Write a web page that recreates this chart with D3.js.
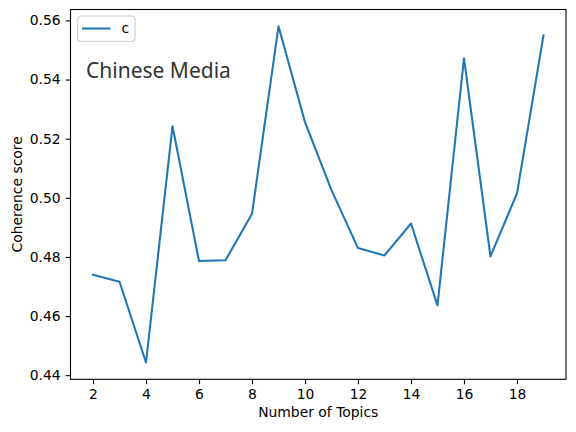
<!DOCTYPE html>
<html>
<head>
<meta charset="utf-8">
<script src="https://cdn.jsdelivr.net/npm/d3@7"></script>
<style>
  body { margin: 0; background: #fff; }
  svg text { font-family: "DejaVu Sans", sans-serif; }
</style>
</head>
<body>
<svg width="576" height="432"></svg>
<script>
// number of topics vs coherence score
const topics = [2, 3, 4, 5, 6, 7, 8, 9, 10, 11, 12, 13, 14, 15, 16, 17, 18, 19]
const scores = [0.4740, 0.4716, 0.4443, 0.5242, 0.4786, 0.4789, 0.4946, 0.5580, 0.5256,
  0.5026, 0.4830, 0.4805, 0.4913, 0.4636, 0.5472, 0.4802, 0.5015, 0.5549]
const xTicks = [2, 4, 6, 8, 10, 12, 14, 16, 18]
const yTicks = [0.44, 0.46, 0.48, 0.50, 0.52, 0.54, 0.56]
const seriesName = "c"
const title = "Chinese Media"

const svg = d3.select("svg")
const plotLeft = 70.5, plotRight = 566, plotTop = 9.5, plotBottom = 379.3
const fontPx = "13.9px"

// matplotlib style 5% margins
const xMin = d3.min(topics), xMax = d3.max(topics)
const xPad = (xMax - xMin) * 0.05
const yMin = d3.min(scores), yMax = d3.max(scores)
const yPad = (yMax - yMin) * 0.05

const x = d3.scaleLinear().domain([xMin - xPad, xMax + xPad]).range([plotLeft, plotRight])
const y = d3.scaleLinear().domain([yMin - yPad, yMax + yPad]).range([plotBottom, plotTop])

const xAxis = svg.append("g")
  .attr("transform", `translate(0,${plotBottom})`)
  .call(d3.axisBottom(x).tickValues(xTicks).tickSize(4.9).tickPadding(4.9).tickFormat(d3.format("d")))
const yAxis = svg.append("g")
  .attr("transform", `translate(${plotLeft},0)`)
  .call(d3.axisLeft(y).tickValues(yTicks).tickSize(4.9).tickPadding(4.9).tickFormat(d3.format(".2f")))

;[xAxis, yAxis].forEach(a => {
  a.select(".domain").remove()
  a.selectAll("line").attr("stroke", "#000").attr("stroke-width", 1.1)
  a.selectAll("text").attr("fill", "#000").style("font-size", fontPx).style("font-family", "DejaVu Sans")
})

// frame
svg.append("rect")
  .attr("x", plotLeft).attr("y", plotTop)
  .attr("width", plotRight - plotLeft).attr("height", plotBottom - plotTop)
  .attr("fill", "none").attr("stroke", "#000").attr("stroke-width", 1.1)

const line = d3.line().x((d, i) => x(topics[i])).y(d => y(d))
svg.append("path")
  .datum(scores)
  .attr("d", line)
  .attr("fill", "none")
  .attr("stroke", "#1f77b4")
  .attr("stroke-width", 2.08)
  .attr("stroke-linejoin", "round")
  .attr("stroke-linecap", "square")

// labels
svg.append("text")
  .attr("x", (plotLeft + plotRight) / 2).attr("y", 417.3)
  .attr("text-anchor", "middle")
  .style("font-size", fontPx)
  .text("Number of Topics")
svg.append("text")
  .attr("transform", `translate(21.5,${(plotTop + plotBottom) / 2}) rotate(-90)`)
  .attr("text-anchor", "middle")
  .style("font-size", fontPx)
  .text("Coherence score")

// legend
const lg = svg.append("g")
lg.append("rect")
  .attr("x", 77.7).attr("y", 16).attr("width", 57.3).attr("height", 25.3)
  .attr("rx", 2.8)
  .attr("fill", "#fff").attr("fill-opacity", 0.8)
  .attr("stroke", "#ccc").attr("stroke-width", 1.1)
lg.append("line")
  .attr("x1", 82).attr("x2", 110.5).attr("y1", 28.5).attr("y2", 28.5)
  .attr("stroke", "#1f77b4").attr("stroke-width", 2.08)
lg.append("text")
  .attr("x", 121.5).attr("y", 33.3)
  .style("font-size", fontPx)
  .text(seriesName)

svg.append("text")
  .attr("x", 86).attr("y", 77.5)
  .attr("fill", "#333")
  .style("font-family", "Noto Sans")
  .style("font-size", "21px")
  .text(title)
</script>
</body>
</html>
